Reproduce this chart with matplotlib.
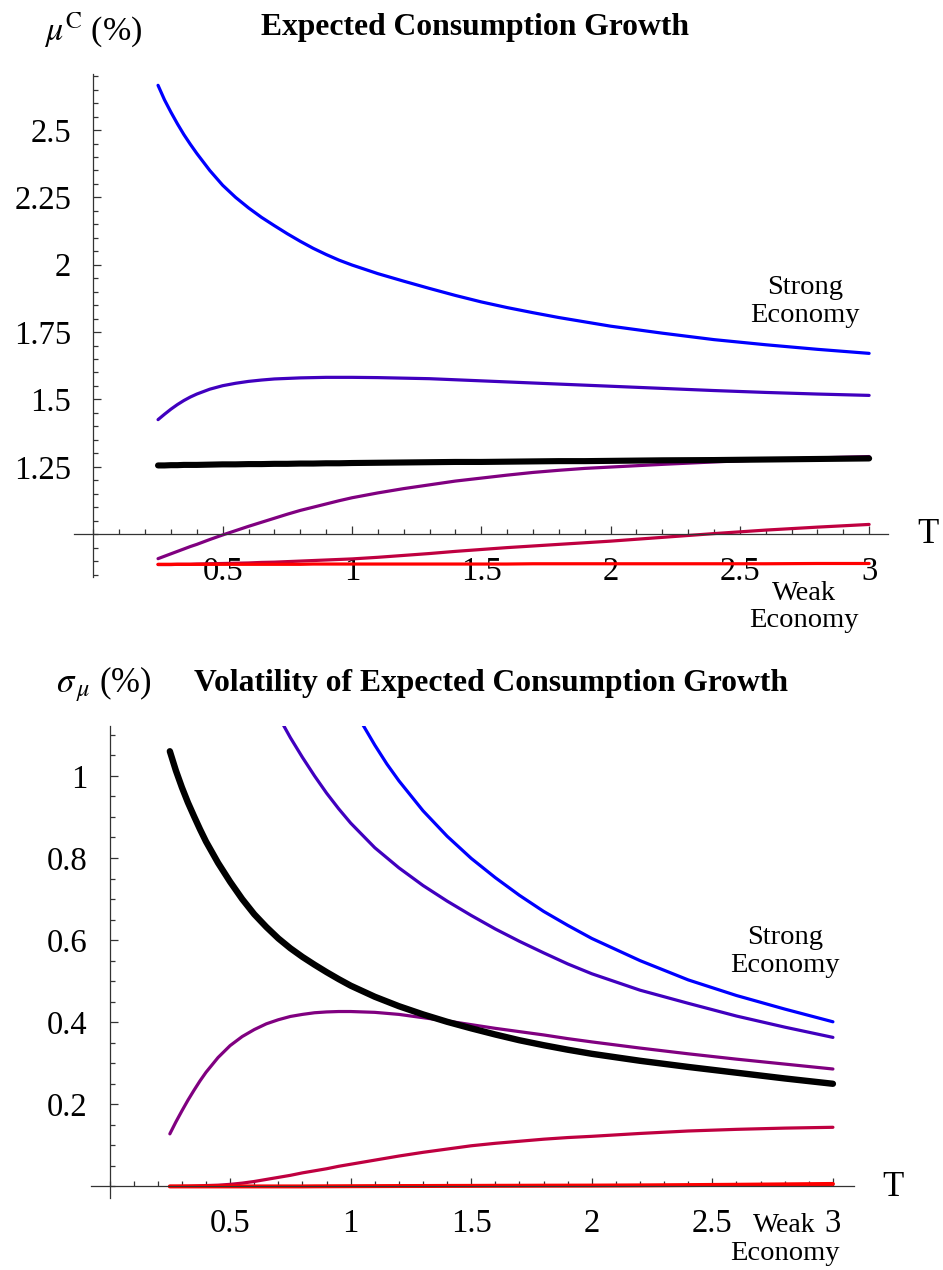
import matplotlib
matplotlib.use("Agg")
import matplotlib.pyplot as plt
from matplotlib.ticker import FixedLocator, MultipleLocator

plt.rcParams['font.family'] = ['Liberation Serif', 'DejaVu Serif']
plt.rcParams['mathtext.fontset'] = 'stix'

# ---------------- data ----------------
T = [0.25, 0.275, 0.3, 0.325, 0.35, 0.375, 0.4, 0.45, 0.5, 0.55, 0.6, 0.65, 0.7, 0.75,
     0.8, 0.85, 0.9, 0.95, 1.0, 1.1, 1.2, 1.3, 1.4, 1.5, 1.6, 1.7, 1.8, 1.9, 2.0,
     2.2, 2.4, 2.6, 2.8, 3.0]

# top panel: expected consumption growth (%)
mu_blue = [2.666, 2.612, 2.566, 2.523, 2.483, 2.447, 2.413, 2.350, 2.295, 2.250, 2.211,
           2.176, 2.145, 2.115, 2.087, 2.061, 2.038, 2.017, 1.999, 1.967, 1.939, 1.912,
           1.886, 1.862, 1.841, 1.822, 1.804, 1.788, 1.772, 1.746, 1.722, 1.703, 1.686, 1.671]
mu_indigo = [1.425, 1.445, 1.464, 1.481, 1.496, 1.509, 1.520, 1.538, 1.551, 1.560, 1.567,
             1.572, 1.576, 1.578, 1.580, 1.581, 1.582, 1.582, 1.582, 1.581, 1.579, 1.577,
             1.573, 1.569, 1.565, 1.561, 1.557, 1.553, 1.549, 1.541, 1.533, 1.526, 1.520, 1.515]
mu_purple = [0.909, 0.918, 0.927, 0.936, 0.945, 0.954, 0.962, 0.980, 0.997, 1.013, 1.029,
             1.044, 1.059, 1.074, 1.088, 1.100, 1.112, 1.124, 1.135, 1.153, 1.169, 1.183,
             1.197, 1.208, 1.219, 1.229, 1.237, 1.244, 1.249, 1.259, 1.268, 1.276, 1.283, 1.288]
mu_crimson = [0.887, 0.887, 0.887, 0.888, 0.888, 0.888, 0.889, 0.890, 0.891, 0.892, 0.893,
              0.895, 0.896, 0.898, 0.900, 0.902, 0.904, 0.906, 0.908, 0.914, 0.921, 0.928,
              0.936, 0.943, 0.950, 0.956, 0.962, 0.968, 0.974, 0.988, 1.002, 1.015, 1.026, 1.036]
mu_red = [0.888, 0.888, 0.888, 0.888, 0.888, 0.888, 0.888, 0.888, 0.888, 0.888, 0.888,
          0.888, 0.888, 0.888, 0.888, 0.889, 0.889, 0.889, 0.889, 0.889, 0.889, 0.889,
          0.889, 0.889, 0.889, 0.890, 0.890, 0.890, 0.890, 0.890, 0.890, 0.890, 0.891, 0.891]
mu_black = [1.255, 1.255, 1.256, 1.256, 1.257, 1.257, 1.257, 1.258, 1.259, 1.259, 1.260,
            1.260, 1.261, 1.261, 1.262, 1.262, 1.263, 1.263, 1.264, 1.265, 1.266, 1.267,
            1.268, 1.268, 1.269, 1.270, 1.271, 1.271, 1.272, 1.274, 1.275, 1.277, 1.279, 1.281]

# bottom panel: volatility of expected consumption growth (%)
sg_black = [1.060, 1.013, 0.972, 0.935, 0.902, 0.870, 0.840, 0.788, 0.742, 0.700, 0.663,
            0.632, 0.604, 0.580, 0.559, 0.540, 0.522, 0.505, 0.489, 0.462, 0.439, 0.419,
            0.401, 0.385, 0.370, 0.356, 0.344, 0.333, 0.323, 0.306, 0.291, 0.277, 0.263, 0.250]
sg_purple = [0.128, 0.157, 0.184, 0.210, 0.234, 0.257, 0.278, 0.314, 0.343, 0.365, 0.382,
             0.396, 0.406, 0.414, 0.419, 0.423, 0.425, 0.426, 0.426, 0.424, 0.419, 0.411,
             0.403, 0.394, 0.385, 0.377, 0.369, 0.360, 0.352, 0.337, 0.323, 0.310, 0.298, 0.286]
sg_crimson = [0.0, 0.0, 0.0003, 0.0005, 0.001, 0.0015, 0.002, 0.003, 0.005, 0.008, 0.012,
              0.017, 0.022, 0.027, 0.033, 0.038, 0.043, 0.049, 0.054, 0.064, 0.074, 0.083,
              0.091, 0.099, 0.105, 0.110, 0.115, 0.119, 0.122, 0.129, 0.135, 0.139, 0.142, 0.144]
sg_red = [0.0, 0.0, 0.0, 0.0, 0.0, 0.0, 0.0, 0.0, 0.0, 0.0, 0.0,
          0.0, 0.0, 0.0, 0.0, 0.0002, 0.0003, 0.0004, 0.0005, 0.0007, 0.0009, 0.001,
          0.0012, 0.0013, 0.0015, 0.0016, 0.0018, 0.0019, 0.002, 0.0025, 0.0032, 0.004, 0.005, 0.006]
T_indigo = [0.715, 0.75, 0.8, 0.85, 0.9, 0.95, 1.0, 1.1, 1.2, 1.3, 1.4, 1.5, 1.6, 1.7, 1.8,
            1.9, 2.0, 2.2, 2.4, 2.6, 2.8, 3.0]
sg_indigo = [1.13, 1.093, 1.045, 1.000, 0.958, 0.920, 0.885, 0.825, 0.776, 0.733, 0.695,
             0.660, 0.627, 0.597, 0.569, 0.542, 0.518, 0.478, 0.446, 0.415, 0.388, 0.363]
T_blue = [1.045, 1.1, 1.15, 1.2, 1.3, 1.4, 1.5, 1.6, 1.7, 1.8, 1.9, 2.0, 2.2, 2.4, 2.6, 2.8, 3.0]
sg_blue = [1.13, 1.075, 1.029, 0.988, 0.915, 0.853, 0.799, 0.752, 0.709, 0.670, 0.636,
           0.604, 0.550, 0.503, 0.465, 0.432, 0.401]

x_major = [0.5, 1, 1.5, 2, 2.5, 3]
x_labels = ['0.5', '1', '1.5', '2', '2.5', '3']
top_y_major = [1.25, 1.5, 1.75, 2, 2.25, 2.5]
top_y_labels = ['1.25', '1.5', '1.75', '2', '2.25', '2.5']
bot_y_major = [0.2, 0.4, 0.6, 0.8, 1.0]
bot_y_labels = ['0.2', '0.4', '0.6', '0.8', '1']

C_BLUE, C_INDIGO, C_PURPLE, C_CRIMSON, C_RED = '#0000ff', '#4000bf', '#800080', '#bf0040', '#ff0000'

W, H = 943, 1270
fig = plt.figure(figsize=(W / 100, H / 100), dpi=100)


def px_axes(x0, x1, y_top, y_bot):
    return fig.add_axes([x0 / W, 1 - y_bot / H, (x1 - x0) / W, (y_bot - y_top) / H])


def ptext(x, y, s, **kw):
    return fig.text(x / W, 1 - y / H, s, ha='center', va='center', **kw)


def style(ax, xlim, ylim, origin_y, ymaj, ylab):
    ax.set_xlim(*xlim)
    ax.set_ylim(*ylim)
    for s in ['top', 'right']:
        ax.spines[s].set_visible(False)
    ax.spines['left'].set_position(('data', 0))
    ax.spines['bottom'].set_position(('data', origin_y))
    for s in ['left', 'bottom']:
        ax.spines[s].set_linewidth(0.9)
        ax.spines[s].set_color('#333333')
    ax.xaxis.set_major_locator(FixedLocator(x_major))
    ax.set_xticklabels(x_labels)
    ax.xaxis.set_minor_locator(MultipleLocator(0.1))
    ax.yaxis.set_major_locator(FixedLocator(ymaj))
    ax.set_yticklabels(ylab)
    ax.yaxis.set_minor_locator(MultipleLocator(0.05))
    ax.tick_params(which='both', direction='in', color='#333333', width=0.9)
    ax.tick_params(which='major', length=6, labelsize=23.5, pad=16)
    ax.tick_params(which='minor', length=3.5)
    ax.patch.set_visible(False)


lw = 2.3
kw = dict(lw=lw, solid_capstyle='round', solid_joinstyle='round')

# ---------------- top panel ----------------
ax1 = px_axes(74, 888, 74, 576.7)
for vals, c in [(mu_blue, C_BLUE), (mu_indigo, C_INDIGO), (mu_purple, C_PURPLE),
                (mu_crimson, C_CRIMSON), (mu_red, C_RED)]:
    ax1.plot(T, vals, color=c, **kw)
ax1.plot(T, mu_black, color='black', lw=4.4, solid_capstyle='round', zorder=3)
style(ax1, (-0.075, 3.073), (0.842, 2.708), 1.0, top_y_major, top_y_labels)

ptext(93, 30, r'$\mu^{\mathrm{C}}$ (%)', fontsize=24.5)
ptext(475, 27, 'Expected Consumption Growth', fontsize=22.8, fontweight='bold')
ptext(928, 535, 'T', fontsize=25)
ptext(805, 288, 'Strong', fontsize=20.5)
ptext(805, 315, 'Economy', fontsize=20.5)
ptext(804, 594, 'Weak', fontsize=20.5)
ptext(804, 621, 'Economy', fontsize=20.5)

# ---------------- bottom panel ----------------
ax2 = px_axes(91, 853.9, 726, 1197.7)
ax2.plot(T_blue, sg_blue, color=C_BLUE, **kw)
ax2.plot(T_indigo, sg_indigo, color=C_INDIGO, **kw)
ax2.plot(T, sg_purple, color=C_PURPLE, **kw)
ax2.plot(T, sg_crimson, color=C_CRIMSON, **kw)
ax2.plot(T, sg_red, color=C_RED, lw=lw + 0.6, solid_capstyle='round')
ax2.plot(T, sg_black, color='black', lw=4.6, solid_capstyle='round', solid_joinstyle='round', zorder=3)
style(ax2, (-0.077, 3.087), (-0.0275, 1.1215), 0.0, bot_y_major, bot_y_labels)

ptext(104, 684, r'$\sigma_{\,\mu}$ (%)', fontsize=25)
ptext(491, 683, 'Volatility of Expected Consumption Growth', fontsize=22.8, fontweight='bold')
ptext(893, 1187, 'T', fontsize=25)
ptext(785, 938, 'Strong', fontsize=20.5)
ptext(785, 965, 'Economy', fontsize=20.5)
ptext(784, 1226, 'Weak', fontsize=20)
ptext(785, 1254, 'Economy', fontsize=20.5)

fig.savefig('out.png', dpi=100, facecolor='white')
